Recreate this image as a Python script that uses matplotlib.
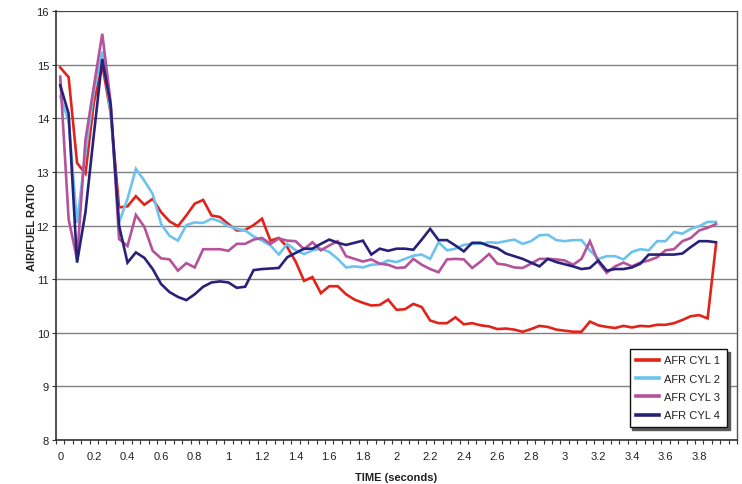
import matplotlib
matplotlib.use("Agg")
import matplotlib.pyplot as plt
from matplotlib.ticker import MultipleLocator, FixedLocator

plt.rcParams['font.family'] = ['Liberation Sans', 'DejaVu Sans']

# Sample times (s), one reading every 0.05 s
time_s = [round(0.05 * i, 2) for i in range(79)]

afr_cyl1 = [14.95, 14.77, 13.17, 12.97, 14.3, 15.0, 14.1, 12.34, 12.36, 12.55,
            12.39, 12.5, 12.25, 12.08, 11.99, 12.19, 12.41, 12.48, 12.19, 12.16,
            12.03, 11.91, 11.92, 12.01, 12.13, 11.72, 11.77, 11.6, 11.33, 10.97,
            11.04, 10.74, 10.87, 10.87, 10.72, 10.62, 10.56, 10.51, 10.52, 10.62,
            10.43, 10.44, 10.54, 10.48, 10.23, 10.18, 10.18, 10.29, 10.16, 10.18,
            10.14, 10.12, 10.07, 10.08, 10.06, 10.02, 10.07, 10.13, 10.11, 10.06,
            10.04, 10.02, 10.02, 10.21, 10.14, 10.11, 10.09, 10.13, 10.1, 10.13,
            10.12, 10.15, 10.15, 10.18, 10.24, 10.31, 10.33, 10.27, 11.65]

afr_cyl2 = [14.41, 13.95, 12.05, 13.35, 14.5, 15.25, 14.1, 12.06, 12.5, 13.06,
            12.84, 12.59, 12.03, 11.81, 11.72, 12.01, 12.06, 12.05, 12.13, 12.08,
            11.99, 11.94, 11.91, 11.8, 11.72, 11.63, 11.46, 11.66, 11.54, 11.47,
            11.54, 11.57, 11.51, 11.38, 11.22, 11.24, 11.22, 11.27, 11.28, 11.35,
            11.32, 11.38, 11.44, 11.46, 11.38, 11.69, 11.54, 11.57, 11.64, 11.66,
            11.66, 11.69, 11.68, 11.71, 11.74, 11.66, 11.71, 11.82, 11.83, 11.73,
            11.71, 11.73, 11.73, 11.54, 11.38, 11.43, 11.43, 11.37, 11.51, 11.56,
            11.54, 11.71, 11.71, 11.88, 11.85, 11.94, 11.99, 12.07, 12.07]

afr_cyl3 = [14.78, 12.12, 11.37, 13.6, 14.6, 15.58, 14.3, 11.75, 11.62, 12.2,
            11.98, 11.53, 11.39, 11.37, 11.16, 11.3, 11.22, 11.56, 11.56, 11.56,
            11.53, 11.66, 11.66, 11.74, 11.77, 11.66, 11.76, 11.72, 11.71, 11.56,
            11.69, 11.54, 11.63, 11.71, 11.43, 11.38, 11.33, 11.37, 11.29, 11.27,
            11.21, 11.22, 11.38, 11.27, 11.19, 11.13, 11.37, 11.38, 11.37, 11.21,
            11.33, 11.47, 11.29, 11.27, 11.22, 11.21, 11.29, 11.38, 11.38, 11.37,
            11.35, 11.27, 11.38, 11.71, 11.32, 11.12, 11.24, 11.31, 11.24, 11.31,
            11.35, 11.41, 11.54, 11.56, 11.71, 11.77, 11.91, 11.96, 12.03]

afr_cyl4 = [14.62, 14.09, 11.31, 12.25, 13.7, 15.11, 14.25, 12.0, 11.31, 11.5,
            11.4, 11.19, 10.91, 10.76, 10.67, 10.61, 10.72, 10.86, 10.94, 10.96,
            10.94, 10.84, 10.86, 11.17, 11.19, 11.2, 11.21, 11.41, 11.49, 11.57,
            11.57, 11.66, 11.74, 11.68, 11.64, 11.68, 11.72, 11.46, 11.57, 11.53,
            11.57, 11.57, 11.55, 11.74, 11.94, 11.73, 11.73, 11.63, 11.52, 11.68,
            11.68, 11.62, 11.58, 11.48, 11.43, 11.38, 11.31, 11.24, 11.38, 11.32,
            11.28, 11.24, 11.19, 11.21, 11.35, 11.16, 11.19, 11.19, 11.22, 11.29,
            11.46, 11.46, 11.46, 11.46, 11.48, 11.6, 11.71, 11.71, 11.69]

series_labels = ["AFR CYL 1", "AFR CYL 2", "AFR CYL 3", "AFR CYL 4"]
series_colors = ["#E2231A", "#6DC3EE", "#B5529A", "#28217A"]

x_tick_values = [0, 0.2, 0.4, 0.6, 0.8, 1, 1.2, 1.4, 1.6, 1.8, 2, 2.2, 2.4,
                 2.6, 2.8, 3, 3.2, 3.4, 3.6, 3.8]
x_tick_labels = ["0", "0.2", "0.4", "0.6", "0.8", "1", "1.2", "1.4", "1.6",
                 "1.8", "2", "2.2", "2.4", "2.6", "2.8", "3", "3.2", "3.4",
                 "3.6", "3.8"]

text_color = "#231F20"
fig = plt.figure(figsize=(7.42, 4.85), dpi=100)
ax = fig.add_axes([0.0755, 0.0907, 0.9178, 0.884])

for values, label, color in zip([afr_cyl1, afr_cyl2, afr_cyl3, afr_cyl4],
                                series_labels, series_colors):
    ax.plot(time_s, values, color=color, lw=1.9, label=label,
            solid_joinstyle="miter", zorder=3)

ax.set_xlim(-0.025, 4.025)
ax.set_ylim(8, 16)

# horizontal gridlines
ax.yaxis.set_major_locator(MultipleLocator(1))
ax.grid(axis="y", color="#808080", lw=1.0, zorder=1)
ax.axhline(16, color="#333333", lw=1.1, zorder=2)

# category-style tick marks between samples, labels on the samples
ax.xaxis.set_major_locator(FixedLocator(x_tick_values))
ax.set_xticklabels(x_tick_labels)
ax.xaxis.set_minor_locator(FixedLocator([-0.025 + 0.05 * k for k in range(82)]))
ax.tick_params(axis="x", which="major", length=0, pad=8, labelsize=8,
               labelcolor=text_color)
ax.tick_params(axis="x", which="minor", length=3, width=0.8, color="#333333",
               direction="out")
ax.tick_params(axis="y", which="major", length=3, width=0.8, color="#333333",
               direction="out", pad=2, labelsize=8, labelcolor=text_color)

for side in ("left", "bottom"):
    ax.spines[side].set_color("#333333")
    ax.spines[side].set_linewidth(1.2)
ax.spines["top"].set_visible(False)
ax.spines["right"].set_color("#555555")
ax.spines["right"].set_linewidth(1.0)

ax.set_xlabel("TIME (seconds)", fontsize=8, fontweight="bold", color=text_color,
              va="center")
ax.xaxis.set_label_coords(0.5, -0.086)
ax.set_ylabel("AIR/FUEL RATIO", fontsize=8, fontweight="bold", color=text_color,
              va="center")
ax.yaxis.set_label_coords(-0.035, 0.5)

leg = ax.legend(loc="lower right", bbox_to_anchor=(0.985, 0.03), fontsize=8,
                frameon=True, fancybox=False, shadow={"color": "0.35", "alpha": 1},
                edgecolor="#111111", handlelength=2.0, handletextpad=0.5,
                labelspacing=0.75, borderpad=0.6, borderaxespad=0)
leg.get_frame().set_linewidth(1.0)
for line in leg.get_lines():
    line.set_linewidth(2.6)
for t in leg.get_texts():
    t.set_color(text_color)

fig.savefig("out.png", dpi=100)
